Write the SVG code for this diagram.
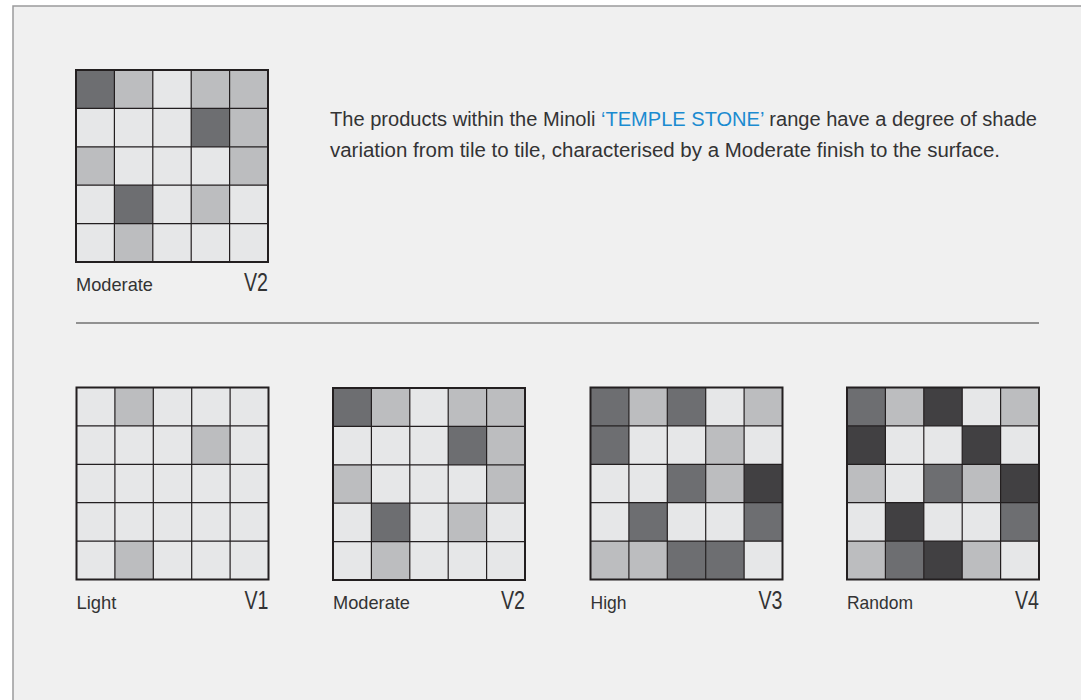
<svg xmlns="http://www.w3.org/2000/svg" xmlns:xlink="http://www.w3.org/1999/xlink" width="1081" height="700" viewBox="0 0 1081 700">
<style>
.l{fill:#e6e7e8}.m{fill:#bcbdbf}.d{fill:#6d6e71}.x{fill:#414042}
.gl{fill:none;stroke:#231f20;stroke-width:1.2}
.ob{fill:none;stroke:#231f20;stroke-width:2}
.t{font-family:"Liberation Sans",Arial,sans-serif;fill:#333334}
.lab{font-size:19px}
.v{font-size:26px;text-anchor:end}
.body{font-size:20px}
.blue{fill:#1b8bd0}
</style>
<defs>
<path id="lines" class="gl" d="M38.4 0V192M76.8 0V192M115.2 0V192M153.6 0V192M0 38.4H192M0 76.8H192M0 115.2H192M0 153.6H192"/>
<g id="v2cells">
<rect class="l" width="192" height="192"/>
<rect class="d" x="0" y="0" width="38.4" height="38.4"/>
<rect class="m" x="38.4" y="0" width="38.4" height="38.4"/>
<rect class="m" x="115.2" y="0" width="38.4" height="38.4"/>
<rect class="m" x="153.6" y="0" width="38.4" height="38.4"/>
<rect class="d" x="115.2" y="38.4" width="38.4" height="38.4"/>
<rect class="m" x="153.6" y="38.4" width="38.4" height="38.4"/>
<rect class="m" x="0" y="76.8" width="38.4" height="38.4"/>
<rect class="m" x="153.6" y="76.8" width="38.4" height="38.4"/>
<rect class="d" x="38.4" y="115.2" width="38.4" height="38.4"/>
<rect class="m" x="115.2" y="115.2" width="38.4" height="38.4"/>
<rect class="m" x="38.4" y="153.6" width="38.4" height="38.4"/>
<use xlink:href="#lines"/>
<rect class="ob" width="192" height="192"/>
</g>
</defs>
<rect x="0" y="0" width="1081" height="700" fill="#ffffff"/>
<rect x="13" y="6" width="1100" height="720" fill="#f0f0f0" stroke="#9a9a9c" stroke-width="1.5"/>

<g id="sample-top" transform="translate(76,70)">
<use xlink:href="#v2cells"/>
<text class="t lab" x="0" y="221" textLength="77" lengthAdjust="spacingAndGlyphs">Moderate</text>
<text class="t v" x="192" y="221" textLength="24" lengthAdjust="spacingAndGlyphs">V2</text>
</g>

<g id="description">
<text class="t body" x="330" y="126" textLength="707" lengthAdjust="spacingAndGlyphs">The products within the Minoli <tspan class="blue">‘TEMPLE STONE’</tspan> range have a degree of shade</text>
<text class="t body" x="330" y="157" textLength="670" lengthAdjust="spacingAndGlyphs">variation from tile to tile, characterised by a Moderate finish to the surface.</text>
</g>

<g id="connectors">
<line x1="76" y1="323" x2="1039" y2="323" stroke="#333" stroke-width="1.2"/>
</g>

<g id="v1" transform="translate(76.5,387.5)">
<rect class="l" width="192" height="192"/>
<rect class="m" x="38.4" y="0" width="38.4" height="38.4"/>
<rect class="m" x="115.2" y="38.4" width="38.4" height="38.4"/>
<rect class="m" x="38.4" y="153.6" width="38.4" height="38.4"/>
<use xlink:href="#lines"/>
<rect class="ob" width="192" height="192"/>
<text class="t lab" x="0" y="221" textLength="40" lengthAdjust="spacingAndGlyphs">Light</text>
<text class="t v" x="192" y="221" textLength="24" lengthAdjust="spacingAndGlyphs">V1</text>
</g>

<g id="v2" transform="translate(333,388)">
<use xlink:href="#v2cells"/>
<text class="t lab" x="0" y="221" textLength="77" lengthAdjust="spacingAndGlyphs">Moderate</text>
<text class="t v" x="192" y="221" textLength="24" lengthAdjust="spacingAndGlyphs">V2</text>
</g>

<g id="v3" transform="translate(590.5,387.5)">
<rect class="l" width="192" height="192"/>
<rect class="d" x="0" y="0" width="38.4" height="38.4"/>
<rect class="m" x="38.4" y="0" width="38.4" height="38.4"/>
<rect class="d" x="76.8" y="0" width="38.4" height="38.4"/>
<rect class="m" x="153.6" y="0" width="38.4" height="38.4"/>
<rect class="d" x="0" y="38.4" width="38.4" height="38.4"/>
<rect class="m" x="115.2" y="38.4" width="38.4" height="38.4"/>
<rect class="d" x="76.8" y="76.8" width="38.4" height="38.4"/>
<rect class="m" x="115.2" y="76.8" width="38.4" height="38.4"/>
<rect class="x" x="153.6" y="76.8" width="38.4" height="38.4"/>
<rect class="d" x="38.4" y="115.2" width="38.4" height="38.4"/>
<rect class="d" x="153.6" y="115.2" width="38.4" height="38.4"/>
<rect class="m" x="0" y="153.6" width="38.4" height="38.4"/>
<rect class="m" x="38.4" y="153.6" width="38.4" height="38.4"/>
<rect class="d" x="76.8" y="153.6" width="38.4" height="38.4"/>
<rect class="d" x="115.2" y="153.6" width="38.4" height="38.4"/>
<use xlink:href="#lines"/>
<rect class="ob" width="192" height="192"/>
<text class="t lab" x="0" y="221" textLength="36" lengthAdjust="spacingAndGlyphs">High</text>
<text class="t v" x="192" y="221" textLength="24" lengthAdjust="spacingAndGlyphs">V3</text>
</g>

<g id="v4" transform="translate(847,387.5)">
<rect class="l" width="192" height="192"/>
<rect class="d" x="0" y="0" width="38.4" height="38.4"/>
<rect class="m" x="38.4" y="0" width="38.4" height="38.4"/>
<rect class="x" x="76.8" y="0" width="38.4" height="38.4"/>
<rect class="m" x="153.6" y="0" width="38.4" height="38.4"/>
<rect class="x" x="0" y="38.4" width="38.4" height="38.4"/>
<rect class="x" x="115.2" y="38.4" width="38.4" height="38.4"/>
<rect class="m" x="0" y="76.8" width="38.4" height="38.4"/>
<rect class="d" x="76.8" y="76.8" width="38.4" height="38.4"/>
<rect class="m" x="115.2" y="76.8" width="38.4" height="38.4"/>
<rect class="x" x="153.6" y="76.8" width="38.4" height="38.4"/>
<rect class="x" x="38.4" y="115.2" width="38.4" height="38.4"/>
<rect class="d" x="153.6" y="115.2" width="38.4" height="38.4"/>
<rect class="m" x="0" y="153.6" width="38.4" height="38.4"/>
<rect class="d" x="38.4" y="153.6" width="38.4" height="38.4"/>
<rect class="x" x="76.8" y="153.6" width="38.4" height="38.4"/>
<rect class="m" x="115.2" y="153.6" width="38.4" height="38.4"/>
<use xlink:href="#lines"/>
<rect class="ob" width="192" height="192"/>
<text class="t lab" x="0" y="221" textLength="66" lengthAdjust="spacingAndGlyphs">Random</text>
<text class="t v" x="192" y="221" textLength="24" lengthAdjust="spacingAndGlyphs">V4</text>
</g>
</svg>
